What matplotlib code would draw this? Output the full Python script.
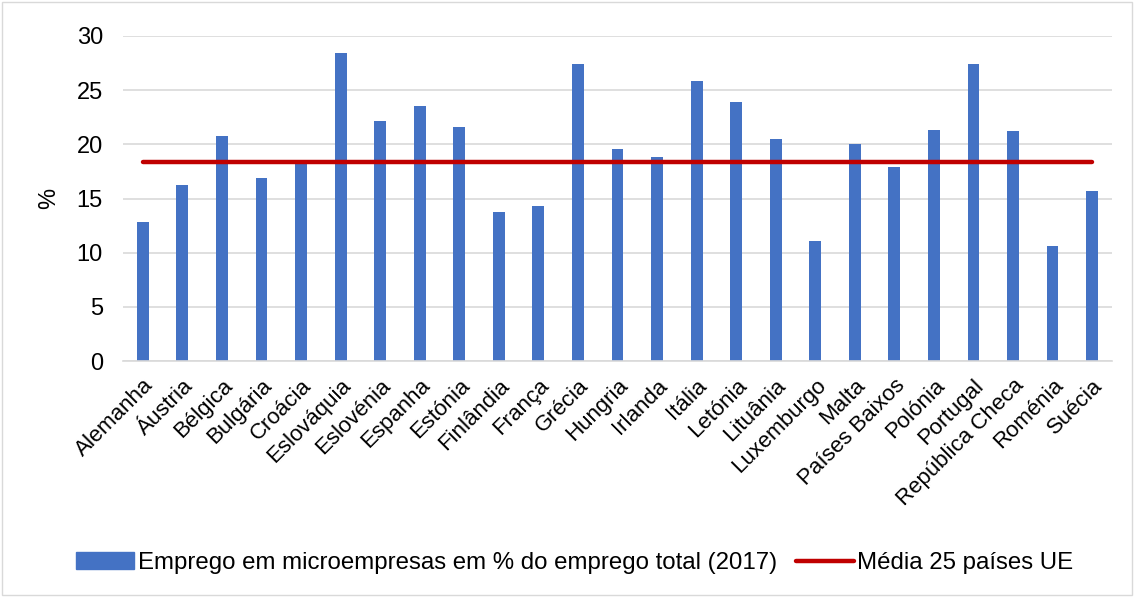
import numpy as np
import matplotlib
matplotlib.use('Agg')
from matplotlib import pyplot as plt
from matplotlib.patches import Rectangle, Patch
from matplotlib.lines import Line2D

plt.rcParams['font.family'] = ['Liberation Sans', 'DejaVu Sans']

paises = ['Alemanha', 'Áustria', 'Bélgica', 'Bulgária', 'Croácia', 'Eslováquia',
          'Eslovénia', 'Espanha', 'Estónia', 'Finlândia', 'França', 'Grécia',
          'Hungria', 'Irlanda', 'Itália', 'Letónia', 'Lituânia', 'Luxemburgo',
          'Malta', 'Países Baixos', 'Polónia', 'Portugal', 'República Checa',
          'Roménia', 'Suécia']
emprego_micro = [12.8, 16.2, 20.8, 16.9, 18.3, 28.4, 22.1, 23.5, 21.6, 13.8, 14.3,
                 27.4, 19.6, 18.8, 25.8, 23.9, 20.5, 11.1, 20.0, 17.9, 21.3, 27.4,
                 21.2, 10.6, 15.7]
media_ue = 18.35

fig = plt.figure(figsize=(11.34, 5.97), dpi=100)
ax = fig.add_axes([0.1085, 0.395, 0.872, 0.545])

x = np.arange(len(paises))
ax.bar(x, emprego_micro, width=0.3, color='#4472C4', zorder=2)
ax.plot(x, [media_ue] * len(paises), color='#C00000', lw=3.2,
        solid_capstyle='round', zorder=3)

ax.set_xlim(-0.5, len(paises) - 0.5)
ax.set_ylim(0, 30)
ax.set_yticks(np.arange(0, 31, 5))
ax.yaxis.grid(True, color='#D9D9D9', lw=1.2, zorder=0)
ax.set_axisbelow(True)
for s in ['top', 'right', 'left']:
    ax.spines[s].set_visible(False)
ax.spines['bottom'].set_color('#D9D9D9')
ax.spines['bottom'].set_linewidth(1.2)
ax.tick_params(axis='both', length=0, colors='black')
ax.tick_params(axis='y', pad=14.5, labelsize=17)
ax.set_xticks(x)
ax.set_xticklabels(paises, rotation=45, ha='right', rotation_mode='anchor')
ax.tick_params(axis='x', pad=10, labelsize=16)
ax.set_ylabel('%', fontsize=17, labelpad=12)

handles = [Patch(color='#4472C4'),
           Line2D([0], [0], color='#C00000', lw=3.2, solid_capstyle='round')]
fig.legend(handles, ['Emprego em microempresas em % do emprego total (2017)',
                     'Média 25 países UE'],
           loc='center', bbox_to_anchor=(0.507, 0.057), ncol=2, frameon=False,
           fontsize=17.3, handlelength=2.4, handletextpad=0.15, columnspacing=0.8)

fig.patches.append(Rectangle((0.002, 0.003), 0.996, 0.994, transform=fig.transFigure,
                             fill=False, edgecolor='#D9D9D9', lw=1))

fig.savefig('out.png', dpi=100)
